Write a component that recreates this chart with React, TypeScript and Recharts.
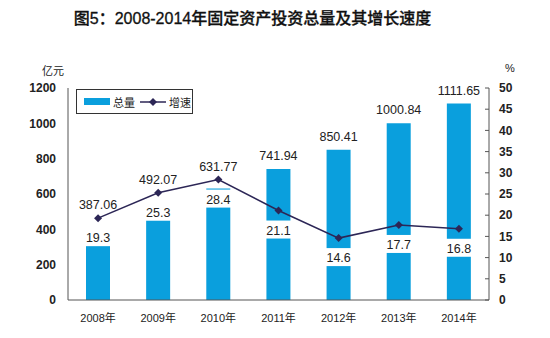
import {
  ComposedChart,
  Bar,
  Line,
  XAxis,
  YAxis,
  LabelList,
} from "recharts";

const years = ["2008年", "2009年", "2010年", "2011年", "2012年", "2013年", "2014年"];
const totals = [387.06, 492.07, 631.77, 741.94, 850.41, 1000.84, 1111.65];
const growth = [19.3, 25.3, 28.4, 21.1, 14.6, 17.7, 16.8];
const leftTicks = [0, 200, 400, 600, 800, 1000, 1200];
const rightTicks = [0, 5, 10, 15, 20, 25, 30, 35, 40, 45, 50];
// category boundaries for the small x-axis ticks
const dividers = [1, 2, 3, 4, 5, 6];

const LEFT_MAX = 1200;
const RIGHT_MAX = 50;
const BAR_COLOR = "#0A9FDD";
const LINE_COLOR = "#2C2656";
const FONT = "'Liberation Sans', Arial, 'Noto Sans CJK SC', sans-serif";

const data = years.map((year, i) => ({
  year,
  total: totals[i],
  growth: growth[i],
}));

// bar value labels sit above the bar or above the line point, whichever is higher
function TotalLabel(props: any) {
  const { x, y, width, height, value, index } = props;
  const bottom = y + height;
  const plotH = (height / value) * LEFT_MAX;
  const pointY = bottom - (growth[index] / RIGHT_MAX) * plotH;
  const top = Math.min(y, pointY);
  return (
    <text
      x={x + width / 2}
      y={top - 9}
      textAnchor="middle"
      fontSize={12.5}
      fontFamily={FONT}
      fill="#222"
    >
      {Number(value).toFixed(2)}
    </text>
  );
}

function GrowthLabel(props: any) {
  const { x, y, value } = props;
  return (
    <g>
      <rect x={x - 17} y={y + 10} width={34} height={18} fill="#fff" />
      <text
        x={x}
        y={y + 24}
        textAnchor="middle"
        fontSize={12.5}
        fontFamily={FONT}
        fill="#222"
      >
        {value}
      </text>
    </g>
  );
}

function Diamond(props: any) {
  const { cx, cy } = props;
  if (cx == null || cy == null) return null;
  const r = 4;
  return (
    <path
      d={`M${cx},${cy - r}L${cx + r},${cy}L${cx},${cy + r}L${cx - r},${cy}Z`}
      fill={LINE_COLOR}
    />
  );
}

function LegendBox() {
  return (
    <div
      style={{
        position: "absolute",
        left: 76,
        top: 89,
        border: "1px solid #333",
        background: "#fff",
        width: 117,
        height: 25,
        boxSizing: "border-box",
        display: "flex",
        alignItems: "center",
        fontSize: 11,
        fontFamily: FONT,
        color: "#222",
        paddingLeft: 7,
        whiteSpace: "nowrap",
      }}
    >
      <span style={{ display: "inline-block", width: 26, height: 7, background: BAR_COLOR, marginRight: 3 }} />
      <span style={{ marginRight: 5 }}>总量</span>
      <svg width={26} height={10} style={{ marginRight: 3 }}>
        <line x1={0} y1={5} x2={26} y2={5} stroke={LINE_COLOR} strokeWidth={1.5} />
        <path d="M13,1L17,5L13,9L9,5Z" fill={LINE_COLOR} />
      </svg>
      <span>增速</span>
    </div>
  );
}

export default function App() {
  return (
    <div
      style={{
        position: "absolute",
        left: 0,
        top: 0,
        width: 550,
        height: 338,
        background: "#fff",
        fontFamily: FONT,
      }}
    >
      <div
        style={{
          position: "absolute",
          left: 0,
          width: 505,
          top: 5,
          textAlign: "center",
          fontSize: 16,
          fontWeight: 500,
          color: "#111",
          fontFamily: "'Liberation Sans', 'Noto Sans CJK SC', sans-serif",
          WebkitTextStroke: "0.3px #111",
        }}
      >
        图5：2008-2014年固定资产投资总量及其增长速度
      </div>
      <div style={{ position: "absolute", left: 42, top: 62, fontSize: 11, color: "#222" }}>亿元</div>
      <div style={{ position: "absolute", left: 505, top: 62, fontSize: 11, color: "#222" }}>%</div>
      <ComposedChart
        width={550}
        height={338}
        data={data}
        margin={{ top: 88, right: 21, bottom: 8, left: 8 }}
      >
        <XAxis
          dataKey="year"
          axisLine={{ stroke: "#555" }}
          tickLine={false}
          tick={{ fontSize: 11, fill: "#222", fontFamily: FONT }}
          tickMargin={8}
          height={30}
        />
        <XAxis
          xAxisId="dividers"
          type="number"
          domain={[0, years.length]}
          ticks={dividers}
          interval={0}
          axisLine={false}
          tickLine={{ stroke: "#555" }}
          tickSize={-4}
          tick={false}
          height={0}
        />
        <YAxis
          yAxisId="left"
          domain={[0, LEFT_MAX]}
          ticks={leftTicks}
          interval={0}
          axisLine={{ stroke: "#555" }}
          tickLine={false}
          tick={{ fontSize: 12, fill: "#222", fontWeight: "bold", fontFamily: FONT }}
          width={60}
          tickMargin={6}
        />
        <YAxis
          yAxisId="right"
          orientation="right"
          domain={[0, RIGHT_MAX]}
          ticks={rightTicks}
          interval={0}
          axisLine={{ stroke: "#555" }}
          tickLine={{ stroke: "#555" }}
          tickSize={-4}
          tick={{ fontSize: 12, fill: "#222", fontWeight: "bold", fontFamily: FONT }}
          width={40}
          tickMargin={14}
        />
        <Bar
          yAxisId="left"
          dataKey="total"
          name="总量"
          fill={BAR_COLOR}
          barSize={24}
          isAnimationActive={false}
        >
          <LabelList dataKey="total" content={<TotalLabel />} />
        </Bar>
        <Line
          yAxisId="right"
          dataKey="growth"
          name="增速"
          stroke={LINE_COLOR}
          strokeWidth={1.5}
          dot={<Diamond />}
          activeDot={false}
          isAnimationActive={false}
        >
          <LabelList dataKey="growth" content={<GrowthLabel />} />
        </Line>
      </ComposedChart>
      <LegendBox />
    </div>
  );
}
